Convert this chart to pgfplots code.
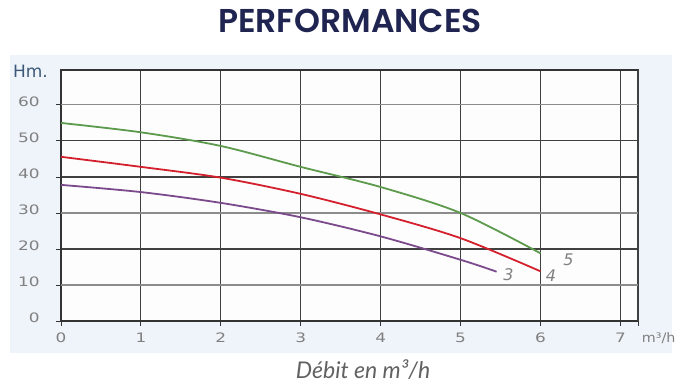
\documentclass[border=0pt]{standalone}
\usepackage{fontspec}
\setmainfont{DejaVu Sans}
\newfontfamily\titlefont{Poppins SemiBold}
\newfontfamily\labfont{Lato}
\usepackage{pgfplots}
\pgfplotsset{compat=1.18}
\definecolor{navy}{HTML}{1F2450}
\definecolor{tickgray}{HTML}{808080}
\definecolor{cgreen}{HTML}{5C9A4C}
\definecolor{cred}{HTML}{D4202C}
\definecolor{cpurple}{HTML}{7B4A8C}
\definecolor{bgblue}{HTML}{EFF4FA}
\definecolor{hmblue}{HTML}{3C5878}
\begin{document}
\begin{tikzpicture}[x=1pt,y=1pt]
\useasboundingbox (0,0) rectangle (681,383);
\fill[bgblue] (10,30) rectangle (672,328);
\node[font=\titlefont\fontsize{33}{35}\selectfont, text=navy] at (350,362) {PERFORMANCES};
\node[font=\labfont\itshape\fontsize{23}{25}\selectfont, text=black!62] at (363,13) {Débit en m³/h};
\begin{axis}[
  at={(61pt,62pt)}, anchor=south west,
  scale only axis, width=577pt, height=251pt,
  xmin=0, xmax=7.22, ymin=0, ymax=69.7,
  axis background/.style={fill=white!85!bgblue},
  xtick={0,1,...,7}, ytick={0,20,40,50},
  extra y ticks={10,30,60},
  extra y tick style={major grid style={draw=black!45, line width=1.1pt}},
  extra x ticks={7.22}, extra x tick labels={},
  /pgf/number format/assume math mode=true,
  tick align=outside, major tick length=5pt,
  xtick pos=bottom, ytick pos=left,
  grid=major,
  major grid style={draw=black!75, line width=1.1pt},
  axis line style={draw=black!80, line width=1.1pt},
  every tick/.style={draw=black!80, line width=0.9pt},
  ticklabel style={font=\fontsize{13}{14}\selectfont, text=tickgray, xscale=1.3},
  xticklabel style={yshift=-3pt},
  yticklabel style={xshift=-9pt, yshift=3pt},
  clip=false,
]
\addplot[cgreen, line width=1.8pt, smooth] coordinates {(0,55)(1,52.4)(2,48.6)(3,42.8)(4,37.2)(5,30)(6,18.8)};
\addplot[cred, line width=1.8pt, smooth] coordinates {(0,45.6)(1,42.8)(2,39.8)(3,35.3)(4,29.6)(5,23)(6,13.8)};
\addplot[cpurple, line width=1.8pt, smooth] coordinates {(0,37.8)(1,35.8)(2,32.8)(3,28.8)(4,23.5)(5,17)(5.45,13.7)};
\node[font=\itshape\fontsize{16}{17}\selectfont, text=tickgray] at (axis cs:6.35,17) {5};
\node[font=\itshape\fontsize{16}{17}\selectfont, text=tickgray] at (axis cs:6.13,12.5) {4};
\node[font=\itshape\fontsize{16}{17}\selectfont, text=tickgray] at (axis cs:5.6,12.8) {3};
\node[font=\fontsize{13}{14}\selectfont, text=tickgray, anchor=west, xscale=1.1] at (axis cs:7.22,-4.8) {m³/h};
\node[font=\fontsize{17}{18}\selectfont, text=hmblue, anchor=east] at (axis cs:-0.12,69.3) {Hm.};
\end{axis}
\end{tikzpicture}
\end{document}
